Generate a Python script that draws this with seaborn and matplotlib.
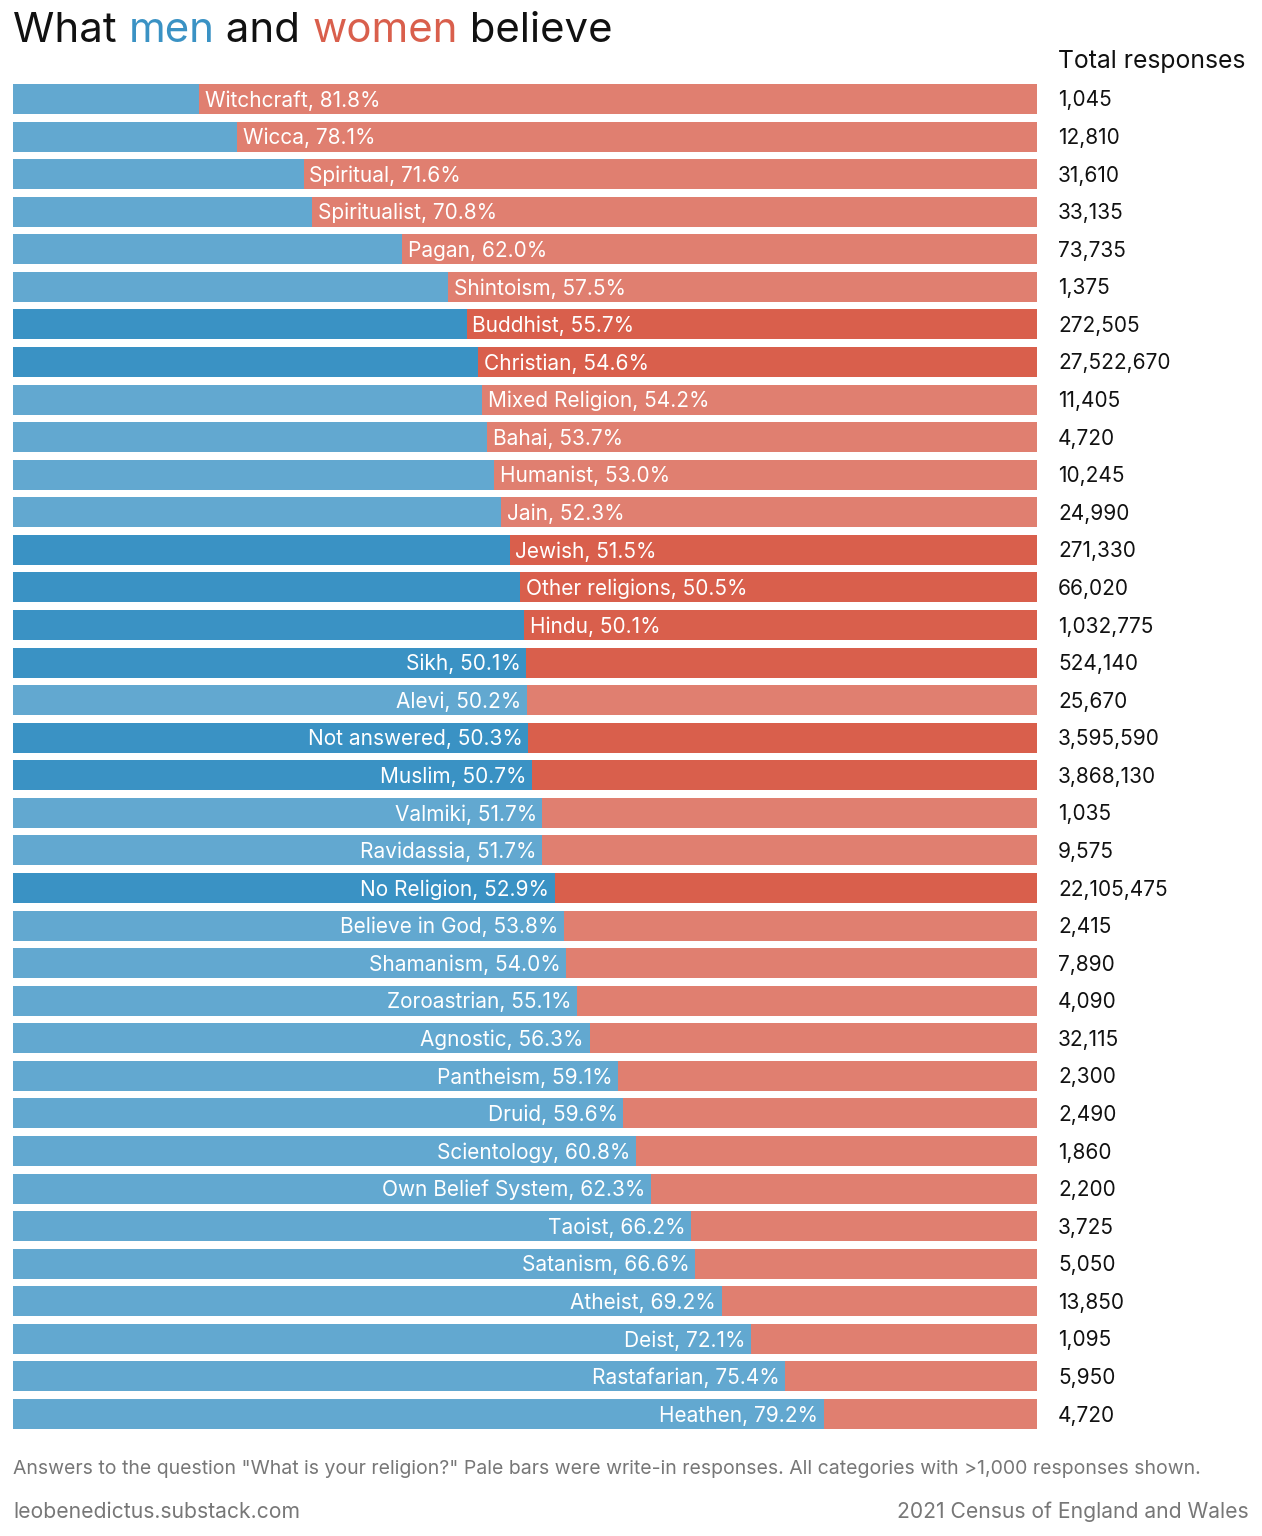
import matplotlib
matplotlib.use("Agg")
import matplotlib.pyplot as plt
import seaborn as sns
import pandas as pd

categories = ["Witchcraft", "Wicca", "Spiritual", "Spiritualist", "Pagan", "Shintoism",
              "Buddhist", "Christian", "Mixed Religion", "Bahai", "Humanist", "Jain",
              "Jewish", "Other religions", "Hindu", "Sikh", "Alevi", "Not answered",
              "Muslim", "Valmiki", "Ravidassia", "No Religion", "Believe in God",
              "Shamanism", "Zoroastrian", "Agnostic", "Pantheism", "Druid", "Scientology",
              "Own Belief System", "Taoist", "Satanism", "Atheist", "Deist", "Rastafarian",
              "Heathen"]
majority_pct = [81.8, 78.1, 71.6, 70.8, 62.0, 57.5, 55.7, 54.6, 54.2, 53.7, 53.0, 52.3,
                51.5, 50.5, 50.1, 50.1, 50.2, 50.3, 50.7, 51.7, 51.7, 52.9, 53.8, 54.0,
                55.1, 56.3, 59.1, 59.6, 60.8, 62.3, 66.2, 66.6, 69.2, 72.1, 75.4, 79.2]
majority_sex = ["F"] * 15 + ["M"] * 21
write_in = [True, True, True, True, True, True, False, False, True, True, True, True,
            False, False, False, False, True, False, False, True, True, False, True, True,
            True, True, True, True, True, True, True, True, True, True, True, True]
totals = ["1,045", "12,810", "31,610", "33,135", "73,735", "1,375", "272,505",
          "27,522,670", "11,405", "4,720", "10,245", "24,990", "271,330", "66,020",
          "1,032,775", "524,140", "25,670", "3,595,590", "3,868,130", "1,035", "9,575",
          "22,105,475", "2,415", "7,890", "4,090", "32,115", "2,300", "2,490", "1,860",
          "2,200", "3,725", "5,050", "13,850", "1,095", "5,950", "4,720"]

BLUE_PALE, BLUE_DARK = "#62a8d0", "#3a92c4"
RED_PALE, RED_DARK = "#e07f70", "#d95f4c"

male_share = [p if s == "M" else 100 - p for p, s in zip(majority_pct, majority_sex)]
df = pd.DataFrame({
    "category": categories,
    "male": male_share,
    "total": [100.0] * len(categories),
    "kind": ["pale" if w else "dark" for w in write_in],
})

FONT = ["Inter", "DejaVu Sans"]
plt.rcParams["font.family"] = FONT

W, H = 1262, 1536
fig = plt.figure(figsize=(W / 100, H / 100), dpi=100)
top_px, bot_px = 80.2, 1432.8
ax = fig.add_axes([13 / W, 1 - bot_px / H, 1024 / W, (bot_px - top_px) / H])

sns.barplot(data=df, x="total", y="category", hue="kind", palette={"pale": RED_PALE, "dark": RED_DARK},
            dodge=False, width=0.8, orient="h", legend=False, ax=ax, linewidth=0, saturation=1)
sns.barplot(data=df, x="male", y="category", hue="kind", palette={"pale": BLUE_PALE, "dark": BLUE_DARK},
            dodge=False, width=0.8, orient="h", legend=False, ax=ax, linewidth=0, saturation=1)

ax.set_xlim(0, 100)
ax.set_ylim(len(categories) - 0.5, -0.5)
ax.axis("off")

dy = 0.04
for i, (cat, p, s, m, t) in enumerate(zip(categories, majority_pct, majority_sex, male_share, totals)):
    label = f"{cat}, {p:.1f}%"
    if s == "F":
        ax.text(m + 0.55, i + dy, label, ha="left", va="center", color="white", fontsize=15)
    else:
        ax.text(m - 0.55, i + dy, label, ha="right", va="center", color="white", fontsize=15)
    ax.text(102.05, i + dy, t, ha="left", va="center", color="#111111", fontsize=15, clip_on=False)

ax.text(102.05, -1.0, "Total responses", ha="left", va="center", color="#111111", fontsize=17.8,
        clip_on=False)

# title with coloured words
fig.canvas.draw()
renderer = fig.canvas.get_renderer()
x = 13
parts = [("What ", "#111111"), ("men", BLUE_DARK), (" and ", "#111111"), ("women", RED_DARK), (" believe", "#111111")]
for txt, col in parts:
    tt = fig.text(x / W, 1 - 31 / H, txt, fontsize=30.2, ha="left", va="center", color=col)
    bb = tt.get_window_extent(renderer)
    x += bb.width

fig.text(13 / W, 1 - 1469 / H,
         'Answers to the question "What is your religion?" Pale bars were write-in responses. All categories with >1,000 responses shown.',
         fontsize=14, color="#777777", ha="left", va="center")
fig.text(13 / W, 1 - 1512 / H, "leobenedictus.substack.com", fontsize=15.2, color="#777777",
         ha="left", va="center")
fig.text(1249 / W, 1 - 1512 / H, "2021 Census of England and Wales", fontsize=15.2, color="#777777",
         ha="right", va="center")

fig.savefig("out.png", dpi=100, facecolor="white")
